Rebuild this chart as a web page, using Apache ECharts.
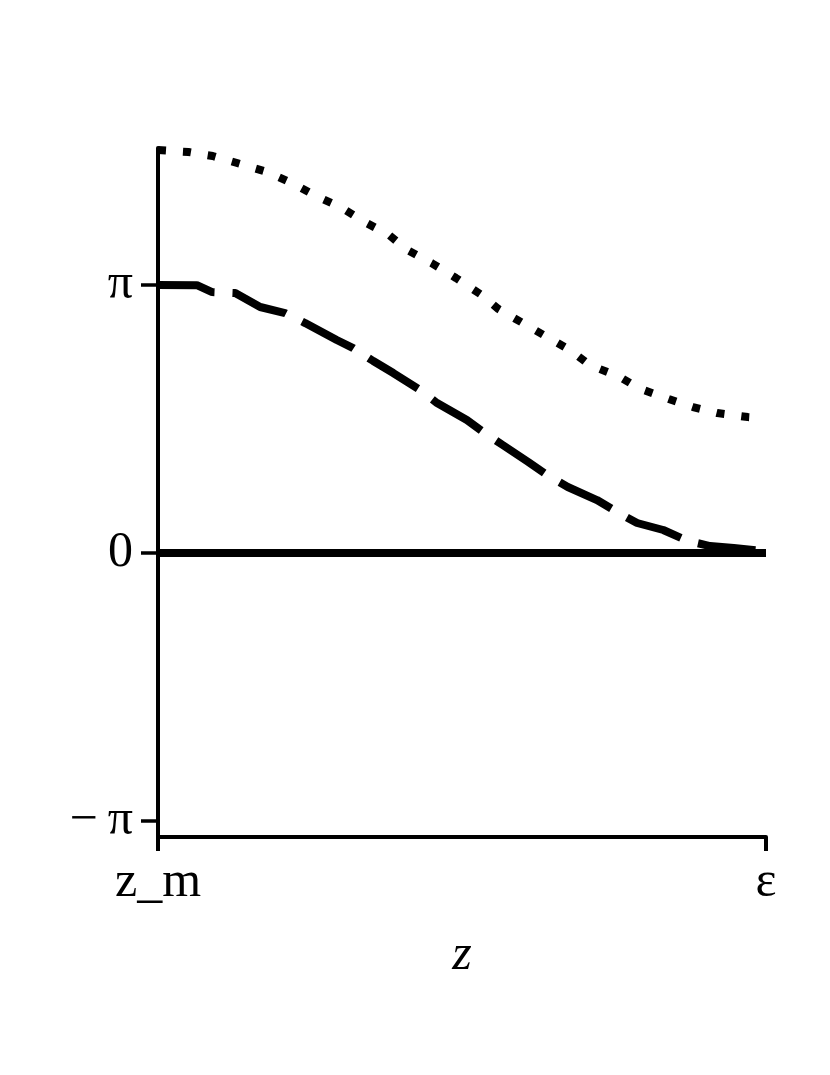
<!DOCTYPE html>
<html>
<head>
<meta charset="utf-8">
<script src="https://cdn.jsdelivr.net/npm/echarts@6/dist/echarts.min.js"></script>
<style>
  html, body { margin: 0; padding: 0; background: #ffffff; }
  #chart { width: 830px; height: 1075px; }
</style>
</head>
<body>
<div id="chart"></div>
<script>
// x positions are fractions of the way from z_m to epsilon
var dottedX = [0, 0.05, 0.09, 0.13, 0.18, 0.22, 0.26, 0.30, 0.34, 0.38, 0.41, 0.45, 0.49,
  0.53, 0.56, 0.60, 0.64, 0.68, 0.71, 0.76, 0.79, 0.84, 0.88, 0.92, 0.97, 1.0];
var dottedY = [4.724, 4.701, 4.654, 4.572, 4.466, 4.337, 4.185, 4.056, 3.880, 3.728, 3.552, 3.399, 3.224,
  3.036, 2.860, 2.696, 2.532, 2.368, 2.204, 2.063, 1.934, 1.805, 1.711, 1.641, 1.594, 1.580];

var dashedX = [0, 0.064, 0.089, 0.127, 0.168, 0.209, 0.242, 0.294, 0.321, 0.354, 0.387, 0.431, 0.459,
  0.508, 0.535, 0.567, 0.609, 0.640, 0.674, 0.722, 0.755, 0.788, 0.831, 0.872, 0.908, 0.947, 1.0];
var dashedY = [3.1416, 3.14, 3.059, 3.048, 2.884, 2.813, 2.696, 2.497, 2.403, 2.251, 2.110, 1.911, 1.758,
  1.559, 1.418, 1.266, 1.067, 0.914, 0.774, 0.621, 0.481, 0.352, 0.270, 0.141, 0.082, 0.059, 0.02];

var solidX = [0, 1];
var solidY = [0, 0];

var xTickValues = [0, 1];
var xTickLabels = ['z_m', 'ε'];
var yTickValues = [-Math.PI, 0, Math.PI];
var yTickLabels = ['\u2212\u2009\u03c0', '0', '\u03c0'];

function pairs(xs, ys) {
  return xs.map(function (x, i) { return [x, ys[i]]; });
}

function labelFor(values, labels, v) {
  for (var i = 0; i < values.length; i++) {
    if (Math.abs(values[i] - v) < 1e-6) return labels[i];
  }
  return '';
}

var serif = 'Liberation Serif';
var chart = echarts.init(document.getElementById('chart'));
chart.setOption({
  animation: false,
  backgroundColor: '#ffffff',
  grid: { left: 158, right: 64, top: 148, bottom: 238, containLabel: false, outerBoundsMode: 'none' },
  xAxis: {
    type: 'value',
    min: 0,
    max: 1,
    name: 'z',
    nameLocation: 'middle',
    nameGap: 94,
    nameTextStyle: { fontFamily: serif, fontSize: 50, fontStyle: 'italic', color: '#000' },
    axisLine: { onZero: false, lineStyle: { color: '#000', width: 4 } },
    axisTick: { show: true, customValues: xTickValues, length: 14, lineStyle: { color: '#000', width: 4 } },
    axisLabel: {
      customValues: xTickValues,
      margin: 21,
      hideOverlap: false,
      fontFamily: serif,
      fontSize: 50,
      color: '#000',
      formatter: function (v) { return labelFor(xTickValues, xTickLabels, v); }
    },
    splitLine: { show: false }
  },
  yAxis: {
    type: 'value',
    min: -3.329,
    max: 4.748,
    axisLine: { show: true, onZero: false, lineStyle: { color: '#000', width: 4 } },
    axisTick: { show: true, customValues: yTickValues, length: 17, lineStyle: { color: '#000', width: 3.5 } },
    axisLabel: {
      customValues: yTickValues,
      margin: 25,
      hideOverlap: false,
      fontFamily: serif,
      fontSize: 50,
      color: '#000',
      formatter: function (v) { return labelFor(yTickValues, yTickLabels, v); }
    },
    splitLine: { show: false }
  },
  series: [
    {
      type: 'line',
      data: pairs(solidX, solidY),
      symbol: 'none',
      lineStyle: { color: '#000', width: 8 }
    },
    {
      type: 'line',
      data: pairs(dashedX, dashedY),
      symbol: 'none',
      lineStyle: { color: '#000', width: 8, type: [58, 18], cap: 'butt' }
    },
    {
      type: 'line',
      data: pairs(dottedX, dottedY),
      symbol: 'none',
      lineStyle: { color: '#000', width: 8, type: [8, 17], cap: 'butt' }
    }
  ]
});
</script>
</body>
</html>
